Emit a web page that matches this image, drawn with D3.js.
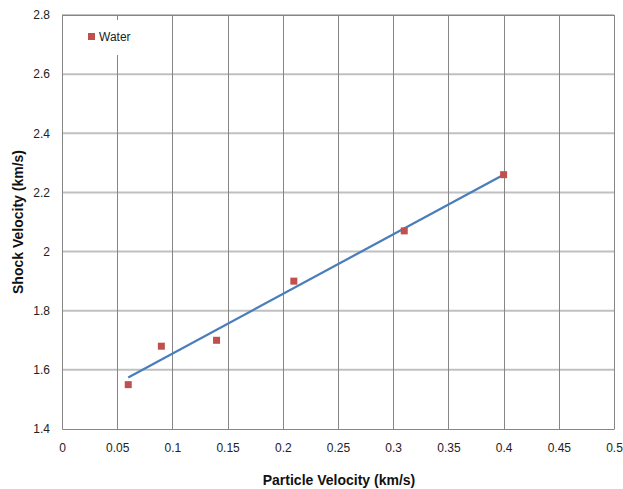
<!DOCTYPE html>
<html><head><meta charset="utf-8">
<script src="https://cdn.jsdelivr.net/npm/d3@7"></script>
<style>body{margin:0;background:#fff;} svg{display:block;font-family:"Liberation Sans",Arial,sans-serif;}</style>
</head><body>
<svg id="c" width="623" height="489"></svg>
<script>
const particleVelocity = [0.06, 0.09, 0.14, 0.21, 0.31, 0.40];
const shockVelocity = [1.55, 1.68, 1.70, 1.90, 2.07, 2.26];
const xTicks = [0, 0.05, 0.1, 0.15, 0.2, 0.25, 0.3, 0.35, 0.4, 0.45, 0.5];
const yTicks = [1.4, 1.6, 1.8, 2.0, 2.2, 2.4, 2.6, 2.8];
const seriesName = "Water";

const svg = d3.select("#c");
const L = 62, R = 614, T = 15, B = 429;
const x = d3.scaleLinear().domain([0, 0.5]).range([L, R]);
const y = d3.scaleLinear().domain([1.4, 2.8]).range([B, T]);

// horizontal gridlines
svg.append("g").selectAll("line").data(yTicks.slice(1)).join("line")
  .attr("x1", L).attr("x2", R).attr("y1", d => y(d)).attr("y2", d => y(d))
  .attr("stroke", "#c0c0c0").attr("stroke-width", 2);
// vertical gridlines
svg.append("g").selectAll("line").data(xTicks.slice(1)).join("line")
  .attr("x1", d => Math.round(x(d)) + 0.5).attr("x2", d => Math.round(x(d)) + 0.5).attr("y1", T).attr("y2", B)
  .attr("stroke", "#868686").attr("stroke-width", 1);
// top border
svg.append("line").attr("x1", L).attr("x2", R).attr("y1", T + 0.5).attr("y2", T + 0.5).attr("stroke", "#868686");

// axes
const xAxis = d3.axisBottom(x).tickValues(xTicks).tickSize(0).tickPadding(14).tickFormat(d => String(d));
const gx = svg.append("g").attr("transform", `translate(0,${B})`).call(xAxis);
gx.select(".domain").attr("stroke", "#868686");
gx.selectAll("text").attr("font-size", 12).attr("fill", "#222");
const yAxis = d3.axisLeft(y).tickValues(yTicks).tickSize(0).tickPadding(12).tickFormat(d => String(+d.toFixed(1)));
const gy = svg.append("g").attr("transform", `translate(${L},0)`).call(yAxis);
gy.select(".domain").attr("stroke", "#868686");
gy.selectAll("text").attr("font-size", 12).attr("fill", "#222");

// trendline (least squares)
const n = particleVelocity.length;
const mx = d3.mean(particleVelocity), my = d3.mean(shockVelocity);
let sxy = 0, sxx = 0;
for (let i = 0; i < n; i++) { sxy += (particleVelocity[i]-mx)*(shockVelocity[i]-my); sxx += (particleVelocity[i]-mx)**2; }
const slope = sxy / sxx, icpt = my - slope * mx;
const xr = d3.extent(particleVelocity);
svg.append("line")
  .attr("x1", x(xr[0])).attr("y1", y(icpt + slope * xr[0]))
  .attr("x2", x(xr[1])).attr("y2", y(icpt + slope * xr[1]))
  .attr("stroke", "#4a7ebb").attr("stroke-width", 2.25);

// points
svg.append("g").selectAll("rect").data(particleVelocity).join("rect")
  .attr("x", d => x(d) - 3.5).attr("y", (d, i) => y(shockVelocity[i]) - 3.5)
  .attr("width", 7).attr("height", 7).attr("fill", "#c0504d");

// legend
svg.append("rect").attr("x", 80).attr("y", 20).attr("width", 60).attr("height", 35).attr("fill", "#fff");
svg.append("rect").attr("x", 88).attr("y", 33).attr("width", 7).attr("height", 7).attr("fill", "#c0504d");
svg.append("text").attr("x", 99).attr("y", 41).attr("font-size", 12).attr("fill", "#222").text(seriesName);

// axis titles
svg.append("text").attr("x", 339).attr("y", 485).attr("text-anchor", "middle")
  .attr("font-size", 14).attr("font-weight", "bold").attr("fill", "#111").text("Particle Velocity (km/s)");
svg.append("text").attr("transform", "translate(23,222) rotate(-90)").attr("text-anchor", "middle")
  .attr("font-size", 14).attr("font-weight", "bold").attr("fill", "#111").text("Shock Velocity (km/s)");
</script>
</body></html>
